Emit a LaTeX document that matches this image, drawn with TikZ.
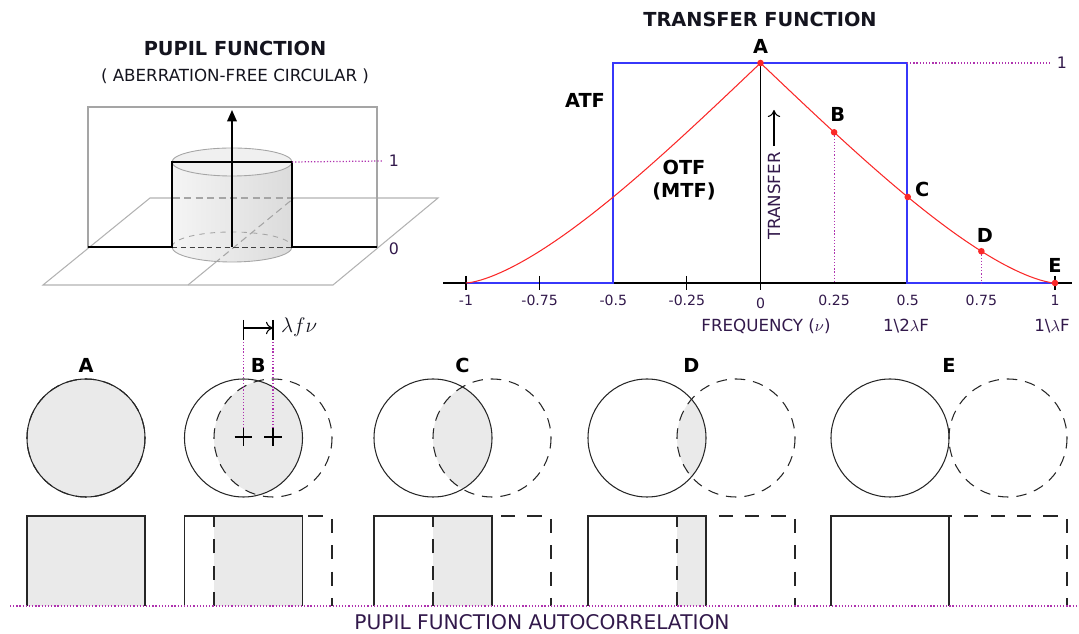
\documentclass[tikz,border=0pt]{standalone}
\usepackage{fontspec}
\setmainfont{DejaVu Sans}
\usepackage{amsmath}
\usepackage{tikz}
\usetikzlibrary{arrows.meta, positioning, calc}
\definecolor{myred}{RGB}{250,40,40}
\definecolor{myblue}{RGB}{55,55,250}
\definecolor{mymagenta}{RGB}{175,50,175}
\definecolor{mylabel}{RGB}{50,25,75}
\definecolor{mydark}{RGB}{20,20,30}
\definecolor{myfill}{RGB}{234,234,234}
\definecolor{myframe}{RGB}{165,165,165}
\tikzset{
  headtext/.style={font=\fontsize{11}{13}\selectfont\bfseries, text=mydark},
  subtext/.style={font=\fontsize{9.5}{11}\selectfont, text=mydark},
  ptlabel/.style={font=\fontsize{11}{13}\selectfont\bfseries, text=black, inner sep=1pt},
  ticklbl/.style={font=\fontsize{8}{10}\selectfont, text=mylabel},
  axtext/.style={font=\fontsize{9.5}{11}\selectfont, text=mylabel},
  dotline/.style={mymagenta, line width=0.7pt, dash pattern=on 0.7pt off 1.1pt},
  planeline/.style={myframe!85, line width=0.6pt},
  frameline/.style={myframe, line width=0.6pt},
  hiddenline/.style={myframe, line width=0.9pt, dash pattern=on 4pt off 2.5pt},
  cylline/.style={myframe, line width=0.5pt},
  profile/.style={black, line width=1.7pt},
  atf/.style={myblue, line width=0.9pt},
  otf/.style={myred, line width=0.6pt},
  axisline/.style={black, line width=0.6pt},
  pupilring/.style={black!85, line width=0.6pt},
  shiftring/.style={black!85, line width=0.6pt, dash pattern=on 6pt off 4.5pt},
  pupilrect/.style={black!85, line width=0.8pt},
  shiftrect/.style={black!85, line width=0.8pt, dash pattern=on 8pt off 7pt}
}

\begin{document}
\begin{tikzpicture}[x=0.02cm, y=-0.02cm,
  declare function={mtf(\u)=0.63662*(rad(acos(min(1,abs(\u))))-abs(\u)*sqrt(max(0,1-\u*\u)));}]
  \useasboundingbox (0,0) rectangle (1079,634);

  % ---------------- Pupil function (top left) ----------------
  \node[headtext] (pupiltitle) at (235,48) {PUPIL FUNCTION};
  \node[subtext] (pupilsub) at (235,76) {( ABERRATION-FREE CIRCULAR )};

  % ground plane and back frame
  \draw[planeline] (43,285) -- (150,198) -- (438,198) -- (333,285) -- cycle;
  \draw[planeline] (188,285) -- (294,198);
  \draw[frameline] (88,107) rectangle (377,247);

  % cylinder
  \shade[left color=myfill!50, right color=black!14]
    (172,162) -- (172,247) arc[start angle=180, end angle=0, x radius=60, y radius=15] -- (292,162) -- cycle;
  \begin{scope}
    \clip (172,162) -- (172,247) arc[start angle=180, end angle=0, x radius=60, y radius=15] -- (292,162) -- cycle;
    \draw[hiddenline] (150,198) -- (438,198);
    \draw[hiddenline, line width=0.6pt] (188,285) -- (294,198);
  \end{scope}
  \fill[myfill!70] (232,162) ellipse [x radius=60, y radius=14];
  \draw[cylline] (232,162) ellipse [x radius=60, y radius=14];
  \draw[cylline] (172,247) arc[start angle=180, end angle=0, x radius=60, y radius=15];
  \draw[cylline, dashed] (172,247) arc[start angle=180, end angle=360, x radius=60, y radius=15];
  \draw[black!75, line width=0.5pt, dash pattern=on 3pt off 2pt] (172,247) -- (292,247);

  % step profile and axis
  \draw[profile] (88,247) -- (172,247) -- (172,162) -- (292,162) -- (292,247) -- (377,247);
  \coordinate (pupilbase) at (232,247);
  \coordinate (pupiltop) at (232,110);
  \draw[-{Triangle[length=6.5pt,width=5.5pt]}, line width=0.8pt] (pupilbase) -- (pupiltop);
  \node[ticklbl, font=\fontsize{9}{10}\selectfont] (pone) at (394,161) {1};
  \node[ticklbl, font=\fontsize{9}{10}\selectfont] (pzero) at (394,249) {0};
  \draw[dotline] (292,162) -- (pone.west);

  % ---------------- Transfer function (top right) ----------------
  \node[headtext] (tftitle) at (760,19) {TRANSFER FUNCTION};

  \coordinate (origin) at (760.5,283);
  \draw[axisline] (443,283) -- (1072,283);
  \draw[atf] (466,283) -- (613,283) -- (613,63) -- (907,63) -- (907,283) -- (1055,283);
  \draw[axisline] (760.5,63) -- (760.5,290);
  \foreach \v in {-1,-0.75,-0.25,1}
    \draw[axisline] ({760.5+294.5*\v},276) -- ++(0,14);
  \foreach \v/\t in {-1/-1, -0.75/-0.75, -0.5/-0.5, -0.25/-0.25, 0.25/0.25, 0.5/0.5, 0.75/0.75, 1/1}
    \node[ticklbl] (tick\t) at ({760.5+294.5*\v},300) {\t};
  \node[ticklbl] (tick0) at (760.5,303) {0};

  \node[axtext] (freq) at (766,326) {FREQUENCY ($\nu$)};
  \node[axtext] (halfcut) at (906,326) {1\textbackslash 2$\lambda$F};
  \node[axtext] (fullcut) at (1052,326) {1\textbackslash$\lambda$F};

  % OTF curve
  \draw[otf] plot[domain=-1:1, samples=121] ({760.5+294.5*\x},{283-220*mtf(\x)});
  \foreach \n/\v in {A/0, B/0.25, C/0.5, D/0.75, E/1}
    \coordinate (p\n) at ({760.5+294.5*\v},{283-220*mtf(\v)});
  \draw[dotline] (pB) -- (pB |- origin);
  \draw[dotline] (pD) -- (pD |- origin);
  \foreach \n in {A,B,C,D,E}
    \fill[myred] (p\n) circle (3.3);

  \node[ptlabel, above=4pt] (lA) at (pA) {A};
  \node[ptlabel, above=5pt] (lB) at ([xshift=2pt]pB) {B};
  \node[ptlabel, right=3pt] (lC) at ([yshift=4pt]pC) {C};
  \node[ptlabel, above=4pt] (lD) at ([xshift=2pt]pD) {D};
  \node[ptlabel, above=5pt] (lE) at (pE) {E};
  \node[ptlabel] (atflbl) at (585,100) {ATF};
  \node[ptlabel, align=center] (otflbl) at (684,180) {OTF\\(MTF)};

  \draw[dotline] (907,63) -- (1050,63);
  \node[ticklbl, font=\fontsize{9}{10}\selectfont] (tone) at (1062,63) {1};

  \node[axtext, rotate=90] (translbl) at (774,196) {TRANSFER};
  \coordinate (transtip) at (774,110);
  \draw[-{To[length=4pt,width=7pt]}, line width=0.6pt] (translbl.east) -- (transtip);

  % ---------------- Autocorrelation (bottom) ----------------
  \foreach \n/\cx/\sh in {A/86/0, B/243.5/29.5, C/433/59, D/647/89, E/890/118} {
    % overlapping pupils
    \begin{scope}
      \clip (\cx,438) circle (59);
      \fill[myfill] (\cx+\sh,438) circle (59);
    \end{scope}
    \draw[pupilring] (\cx,438) circle (59);
    \draw[shiftring] (\cx+\sh,438) circle (59);
    \node[ptlabel] (c\n) at (\cx+\sh/2,365) {\n};
    % side view
    \fill[myfill] (\cx-59+\sh,606) rectangle (\cx+59,516);
    \draw[pupilrect] (\cx-59,606) |- (\cx+59,516) -- (\cx+59,606);
    \draw[shiftrect] (\cx-59+\sh,606) |- (\cx+59+\sh,516) -- (\cx+59+\sh,606);
  }

  % shift marker for B
  \coordinate (ctr1) at (243.5,437);
  \coordinate (ctr2) at (273,437);
  \foreach \c in {ctr1,ctr2}
    \draw[black, line width=0.7pt] ([xshift=-9*0.567pt]\c) -- ([xshift=9*0.567pt]\c)
      ([yshift=-9*0.567pt]\c) -- ([yshift=9*0.567pt]\c);
  \draw[dotline] (243.5,342) -- (243.5,428);
  \draw[dotline] (273,342) -- (273,428);
  \draw[black, line width=0.6pt] (243.5,320) -- (243.5,340) (273,320) -- (273,340);
  \draw[-{To[length=4pt,width=7pt]}, line width=0.6pt] (243.5,328) -- (273,328);
  \node[anchor=west, font=\fontsize{13}{15}\selectfont, text=mydark] (shiftlbl) at (275,327) {$\lambda f\nu$};

  \draw[dotline] (10,606) -- (1079,606);
  \node[axtext, font=\fontsize{11.5}{13}\selectfont] (autolbl) at (542,622) {PUPIL FUNCTION AUTOCORRELATION};
\end{tikzpicture}
\end{document}
